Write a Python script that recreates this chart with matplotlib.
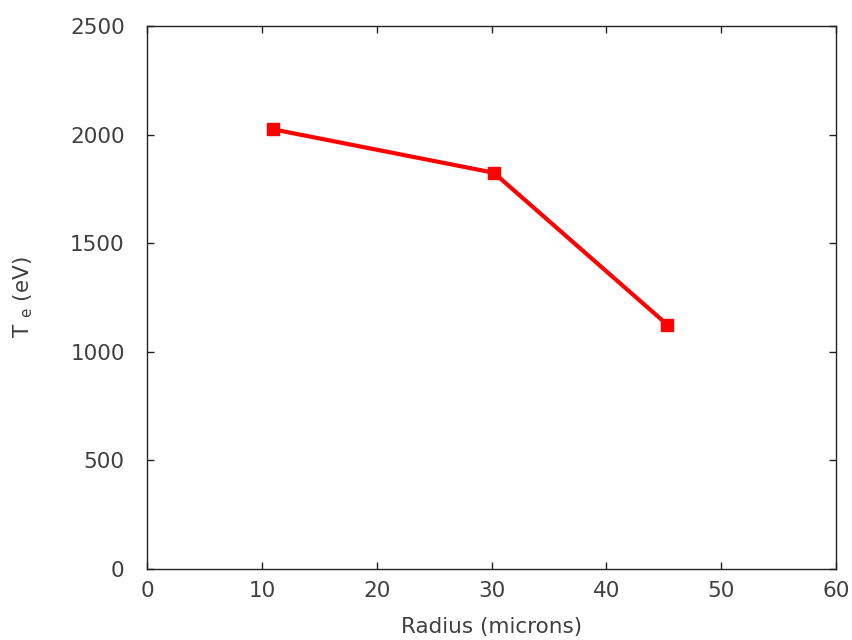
import matplotlib
matplotlib.use("Agg")
import matplotlib.pyplot as plt

# data
radius = [11.0, 30.2, 45.3]
temp_e = [2025, 1825, 1125]

x_ticks = [0, 10, 20, 30, 40, 50, 60]
y_ticks = [0, 500, 1000, 1500, 2000, 2500]

fig = plt.figure(figsize=(8.52, 6.4), dpi=100)
ax = fig.add_axes([0.1725, 0.111, 0.809, 0.848])

ax.plot(radius, temp_e, color="red", linewidth=3, marker="s", markersize=9)

ax.set_xlim(0, 60)
ax.set_ylim(0, 2500)
ax.set_xticks(x_ticks)
ax.set_yticks(y_ticks)

ax.tick_params(direction="in", top=True, right=True, length=5, width=1,
               color="#222222", labelsize=15.5, labelcolor="#404040")
ax.tick_params(axis="y", pad=16)
ax.tick_params(axis="x", pad=9)
for s in ax.spines.values():
    s.set_linewidth(1.0)
    s.set_color("#222222")

ax.set_xlabel("Radius (microns)", fontsize=15.5, color="#404040", labelpad=11)
ax.set_ylabel(r"T $_{\mathregular{e}}$ (eV)", fontsize=15.5, color="#404040", labelpad=25)

fig.savefig("out.png", dpi=100)
